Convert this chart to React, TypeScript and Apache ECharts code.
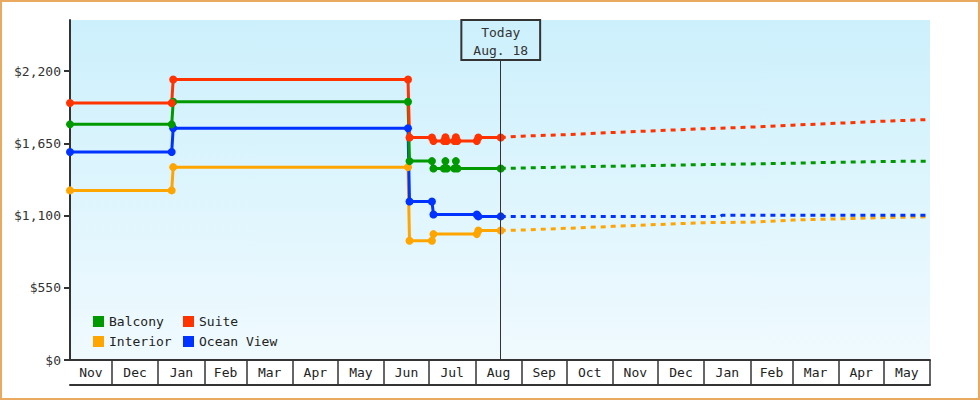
import React, { useEffect, useRef } from 'react';
import * as echarts from 'echarts';

// price history, [date, price]
const balcony: [string, number][] = [
  ['2013-11-03', 1795], ['2014-01-10', 1795], ['2014-01-11', 1967], ['2014-06-17', 1967],
  ['2014-06-18', 1515], ['2014-07-03', 1515], ['2014-07-04', 1459], ['2014-07-11', 1459],
  ['2014-07-12', 1515], ['2014-07-13', 1459], ['2014-07-18', 1459], ['2014-07-19', 1515],
  ['2014-07-20', 1459], ['2014-08-18', 1459],
];
const suite: [string, number][] = [
  ['2013-11-03', 1958], ['2014-01-10', 1958], ['2014-01-11', 2137], ['2014-06-17', 2137],
  ['2014-06-18', 1695], ['2014-07-03', 1695], ['2014-07-04', 1668], ['2014-07-11', 1668],
  ['2014-07-12', 1697], ['2014-07-13', 1668], ['2014-07-18', 1668], ['2014-07-19', 1697],
  ['2014-07-20', 1668], ['2014-08-02', 1668], ['2014-08-03', 1695], ['2014-08-18', 1695],
];
const interior: [string, number][] = [
  ['2013-11-03', 1292], ['2014-01-10', 1292], ['2014-01-11', 1469], ['2014-06-17', 1469],
  ['2014-06-18', 908], ['2014-07-03', 908], ['2014-07-04', 959], ['2014-08-02', 959],
  ['2014-08-03', 987], ['2014-08-18', 987],
];
const oceanView: [string, number][] = [
  ['2013-11-03', 1585], ['2014-01-10', 1585], ['2014-01-11', 1766], ['2014-06-17', 1766],
  ['2014-06-18', 1208], ['2014-07-03', 1208], ['2014-07-04', 1109], ['2014-08-02', 1109],
  ['2014-08-03', 1094], ['2014-08-18', 1094],
];

// forecast after today
const balconyForecast: [string, number][] = [
  ['2014-08-18', 1459], ['2014-09-20', 1467], ['2014-10-25', 1475], ['2014-12-01', 1482],
  ['2015-01-10', 1490], ['2015-02-20', 1497], ['2015-03-25', 1505], ['2015-05-01', 1512],
  ['2015-06-01', 1515],
];
const suiteForecast: [string, number][] = [
  ['2014-08-18', 1695], ['2014-09-01', 1705], ['2014-10-01', 1717], ['2014-11-01', 1733],
  ['2014-12-01', 1747], ['2015-01-01', 1762], ['2015-02-01', 1774], ['2015-03-01', 1789],
  ['2015-04-01', 1804], ['2015-05-01', 1819], ['2015-06-01', 1832],
];
const interiorForecast: [string, number][] = [
  ['2014-08-18', 987], ['2014-09-01', 990], ['2014-10-01', 1003], ['2014-11-01', 1018],
  ['2014-12-01', 1032], ['2015-01-01', 1046], ['2015-02-01', 1050], ['2015-03-01', 1066],
  ['2015-04-01', 1075], ['2015-05-01', 1085], ['2015-06-01', 1091],
];
const oceanViewForecast: [string, number][] = [
  ['2014-08-18', 1094], ['2015-01-12', 1094], ['2015-01-13', 1102], ['2015-06-01', 1102],
];

const monthLabels = ['Nov', 'Dec', 'Jan', 'Feb', 'Mar', 'Apr', 'May', 'Jun', 'Jul', 'Aug',
  'Sep', 'Oct', 'Nov', 'Dec', 'Jan', 'Feb', 'Mar', 'Apr', 'May'];
const priceTicks = [0, 550, 1100, 1650, 2200];

const axisStart = '2013-11-03';
const axisEnd = '2015-06-01';
const today = '2014-08-18';
const todayLabel = 'Today\nAug. 18';

const COLORS = { balcony: '#009900', suite: '#ff3300', interior: '#ffa500', ocean: '#0033ff' };
const FONT = "'DejaVu Sans Mono', monospace";

const t = (s: string) => {
  const [y, m, d] = s.split('-').map(Number);
  return Date.UTC(y, m - 1, d);
};
const toData = (rows: [string, number][]) => rows.map(([d, v]) => [t(d), v]);

export default function App() {
  const chartRef = useRef<HTMLDivElement>(null);

  useEffect(() => {
    document.body.style.margin = '0';
    if (!chartRef.current) return;
    const chart = echarts.init(chartRef.current, undefined, { renderer: 'svg' });

    // month cell edges: axis start, then first of each month up to axis end
    const edges: number[] = [t(axisStart)];
    const s = new Date(t(axisStart));
    for (let i = 1; i <= monthLabels.length; i++) {
      edges.push(Date.UTC(s.getUTCFullYear(), s.getUTCMonth() + i, 1));
    }
    const centers = monthLabels.map((_, i) => (edges[i] + edges[i + 1]) / 2);
    const labelFor = (v: number) => {
      let best = 0;
      centers.forEach((c, i) => { if (Math.abs(c - v) < Math.abs(centers[best] - v)) best = i; });
      return monthLabels[best];
    };

    const main = (name: string, rows: [string, number][], color: string, extra = {}) => ({
      type: 'line',
      name,
      data: toData(rows),
      symbol: 'circle',
      symbolSize: 8,
      itemStyle: { color },
      lineStyle: { width: 3, color },
      ...extra,
    });
    const forecast = (name: string, rows: [string, number][], color: string) => ({
      type: 'line',
      name,
      data: toData(rows),
      showSymbol: false,
      symbol: 'none',
      itemStyle: { color },
      lineStyle: { width: 3, color, type: [5, 5] },
      z: 1,
    });

    const legendBase = {
      orient: 'vertical',
      top: 315,
      padding: 0,
      icon: 'rect',
      itemWidth: 11,
      itemHeight: 11,
      itemGap: 7,
      itemTextGap: 3,
      textStyle: { fontFamily: FONT, fontSize: 13, color: '#222' },
    };

    const option: any = {
      animation: false,
      textStyle: { fontFamily: FONT },
      grid: {
        left: 70,
        right: 50,
        top: 20,
        bottom: 40,
        show: true,
        borderWidth: 0,
        backgroundColor: new echarts.graphic.LinearGradient(0, 0, 0, 1, [
          { offset: 0, color: '#ccf0fc' },
          { offset: 1, color: '#f0fafe' },
        ]),
      },
      legend: [
        { ...legendBase, left: 93, data: ['Balcony', 'Interior'] },
        { ...legendBase, left: 183, data: ['Suite', 'Ocean View'] },
      ],
      xAxis: [
        {
          type: 'value',
          min: t(axisStart),
          max: t(axisEnd),
          axisLine: { lineStyle: { color: '#333', width: 2 } },
          axisTick: {
            show: true,
            inside: false,
            length: 25,
            customValues: edges.slice(1),
            lineStyle: { color: '#333', width: 1.5 },
          },
          axisLabel: {
            customValues: centers,
            margin: 6,
            fontFamily: FONT,
            fontSize: 13,
            color: '#222',
            formatter: (v: number) => labelFor(v),
          },
          splitLine: { show: false },
        },
        {
          type: 'value',
          min: t(axisStart),
          max: t(axisEnd),
          position: 'bottom',
          offset: 25,
          axisLine: { lineStyle: { color: '#333', width: 2 } },
          axisTick: { show: false },
          axisLabel: { show: false },
          splitLine: { show: false },
        },
      ],
      yAxis: {
        type: 'value',
        min: 0,
        max: 2590,
        interval: 550,
        axisLine: { show: true, lineStyle: { color: '#333', width: 2 } },
        axisTick: { show: true, length: 6, customValues: priceTicks, lineStyle: { color: '#333', width: 2 } },
        axisLabel: {
          customValues: priceTicks,
          margin: 9,
          fontFamily: FONT,
          fontSize: 13,
          color: '#333',
          formatter: (v: number) => '$' + v.toLocaleString('en-US'),
        },
        splitLine: { show: false },
      },
      series: [
        forecast('Balcony', balconyForecast, COLORS.balcony),
        forecast('Suite', suiteForecast, COLORS.suite),
        forecast('Interior', interiorForecast, COLORS.interior),
        forecast('Ocean View', oceanViewForecast, COLORS.ocean),
        main('Interior', interior, COLORS.interior),
        main('Ocean View', oceanView, COLORS.ocean),
        main('Balcony', balcony, COLORS.balcony),
        main('Suite', suite, COLORS.suite, {
          markLine: {
            silent: true,
            symbol: 'none',
            lineStyle: { color: '#333', width: 1, type: 'solid' },
            label: {
              show: true,
              position: 'end',
              distance: 0,
              formatter: todayLabel,
              fontFamily: FONT,
              fontSize: 13,
              lineHeight: 18,
              color: '#333',
              borderColor: '#333',
              borderWidth: 1,
              padding: [3, 12, 1, 12],
              backgroundColor: 'transparent',
            },
            data: [[{ coord: [t(today), 0] }, { coord: [t(today), 2285] }]],
          },
        }),
      ],
    };

    chart.setOption(option);
    return () => {
      chart.dispose();
    };
  }, []);

  return (
    <div style={{ position: 'relative', width: 980, height: 400 }}>
      <div ref={chartRef} style={{ width: 980, height: 400 }} />
      <div
        style={{
          position: 'absolute',
          inset: 0,
          border: '2px solid #e9a95f',
          boxSizing: 'border-box',
          pointerEvents: 'none',
        }}
      />
    </div>
  );
}
